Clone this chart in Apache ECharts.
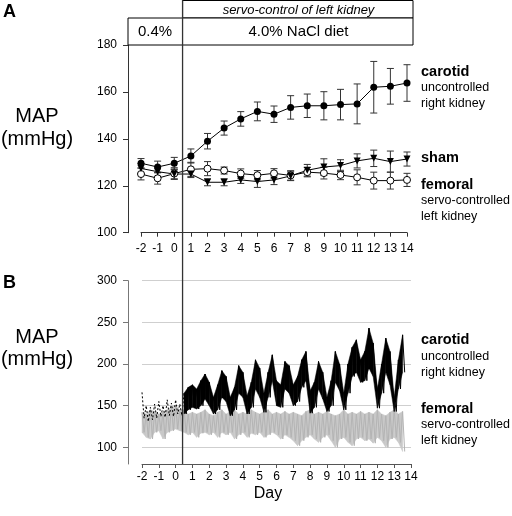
<!DOCTYPE html>
<html><head><meta charset="utf-8">
<script src="https://cdn.jsdelivr.net/npm/echarts@6/dist/echarts.min.js"></script>
<style>html,body{margin:0;padding:0;background:#fff}#c{width:512px;height:516px}</style>
</head><body><div id="c"></div>
<script>
// ---------- Panel A data ----------
const days = [-2,-1,0,1,2,3,4,5,6,7,8,9,10,11,12,13,14];
const carotidMean = [129.6,128,129.6,132.7,139,144.6,148.5,151.7,150.5,153.4,154.1,154.1,154.6,154.9,162,162.4,163.8];
const carotidErr  = [2,2.5,2.5,3,3.3,3,3.1,4,3.5,5,5,6,6.5,8.5,11,7.6,7.8];
const shamMean = [127.4,126,125,125,121.5,121.5,122.5,121.8,122.5,124.2,126.6,128,128.6,130.6,131.7,130.3,131.4];
const shamErr  = [2,2,2,1.5,1.5,1.5,1.5,2.5,2,2,2.5,3.5,2.5,3,3.5,4.5,3];
const femoralMean = [125,123.2,125.2,127,127.3,126.5,125.2,124.5,125.3,124.4,125.8,125.4,124.6,123.6,122.2,122.2,122.5];
const femoralErr  = [2.5,2.5,2.5,3,3,1.5,2,2,2,2,2,2.5,2,3.2,3.6,3.6,2.8];
const yTicksA = [100,120,140,160,180];

// ---------- Panel B data (0.25-day bins starting at day -2) ----------
const binStart = -2, binStep = 0.25;
const servoStartDay = 0.5;
const carotidHigh = [166,150,148,152,155,150,157,153,157,152,165,172,175,170,180,188,178,160,175,192,185,160,172,198,190,162,178,205,195,165,190,211,180,175,203,198,175,185,205,215,168,178,203,190,160,180,215,200,165,200,220,229,205,215,243,225,170,200,231,215,160,205,235];
const carotidLow  = [135,131,133,135,137,136,138,137,140,138,140,145,148,146,150,158,150,140,145,160,155,138,145,165,160,140,148,170,160,142,160,180,150,148,170,165,150,155,172,180,141,148,170,158,143,150,178,168,145,165,185,190,178,180,195,185,147,165,190,175,143,170,190];
const femoralHigh = [142,140,145,143,140,142,145,148,150,145,145,140,142,140,142,145,140,138,142,145,140,143,145,140,142,140,145,142,140,143,145,140,142,140,143,140,142,140,138,143,145,140,142,140,143,140,138,140,145,140,142,140,143,140,142,140,145,140,138,142,145,140,143];
const femoralLow  = [118,112,110,118,120,110,118,120,122,120,118,115,118,112,117,118,115,118,112,118,115,118,110,115,118,112,117,115,118,112,115,118,115,110,115,112,108,102,108,112,115,110,106,112,115,108,100,110,112,106,102,110,112,108,110,105,112,108,100,110,112,106,95];
const yTicksB = [100,150,200,250,300];

const FONT = "'Liberation Sans', Arial, sans-serif";

function zigzag(hi, lo, fromDay, toDay){
  const out = [];
  for (let i = 0; i < hi.length; i++){
    const t = binStart + i*binStep;
    if (t < fromDay || t > toDay) continue;
    out.push([t, hi[i]]);
    out.push([t + binStep/2, lo[i]]);
  }
  return out;
}
function bandSegs(hi, lo, fromDay){
  const out = [];
  for (let i = 0; i < hi.length - 1; i++){
    const t = binStart + i*binStep;
    if (t < fromDay) continue;
    out.push([t, hi[i], lo[i], t + binStep, hi[i+1], lo[i+1]]);
  }
  return out;
}
function bandRender(color){
  return function(params, api){
    const a = api.coord([api.value(0), api.value(1)]);
    const b = api.coord([api.value(0), api.value(2)]);
    const c = api.coord([api.value(3), api.value(5)]);
    const d = api.coord([api.value(3), api.value(4)]);
    return {type:'polygon', shape:{points:[a,b,c,d]}, style:{fill:color, stroke:color, lineWidth:0.5}};
  };
}
function errRender(params, api){
  const x = api.value(0), y = api.value(1), e = api.value(2);
  const top = api.coord([x, y+e]), bot = api.coord([x, y-e]);
  const w = 3.5;
  const style = {stroke:'#333', lineWidth:1};
  return {type:'group', children:[
    {type:'line', shape:{x1:top[0],y1:top[1],x2:bot[0],y2:bot[1]}, style:style},
    {type:'line', shape:{x1:top[0]-w,y1:top[1],x2:top[0]+w,y2:top[1]}, style:style},
    {type:'line', shape:{x1:bot[0]-w,y1:bot[1],x2:bot[0]+w,y2:bot[1]}, style:style}
  ]};
}
const pack = (m, e) => days.map((d,i)=>[d, m[i], e[i]]);
const pts = (m) => days.map((d,i)=>[d, m[i]]);

const chart = echarts.init(document.getElementById('c'), null, {renderer:'canvas'});
const axisCol = '#333';
const option = {
  animation:false,
  backgroundColor:'#fff',
  textStyle:{fontFamily:FONT},
  grid:[
    {left:141, right:105, top:45, height:187.7},
    {left:142, right:101, top:280.7, bottom:52}
  ],
  xAxis:[
    {type:'value', gridIndex:0, min:-2, max:14, interval:1,
     axisLine:{onZero:false, lineStyle:{color:axisCol}}, axisTick:{length:4, lineStyle:{color:axisCol}},
     axisLabel:{color:'#000', fontSize:12, margin:10, fontFamily:FONT}, splitLine:{show:false}},
    {type:'value', gridIndex:1, min:-2, max:14, interval:1,
     axisLine:{onZero:false, lineStyle:{color:'#555'}}, axisTick:{length:4, lineStyle:{color:'#555'}},
     axisLabel:{color:'#000', fontSize:12, margin:7, fontFamily:FONT}, splitLine:{show:false}}
  ],
  yAxis:[
    {type:'value', gridIndex:0, min:100, max:180, interval:20, offset:13,
     axisLine:{show:true, onZero:false, lineStyle:{color:axisCol}}, axisTick:{show:true, length:5, lineStyle:{color:axisCol}},
     axisLabel:{color:'#000', fontSize:12, margin:11, fontFamily:FONT}, splitLine:{show:false}},
    {type:'value', gridIndex:1, min:80, max:300, offset:14,
     axisLine:{show:true, onZero:false, lineStyle:{color:'#777'}},
     axisTick:{show:true, length:5, lineStyle:{color:'#777'}, customValues:yTicksB},
     axisLabel:{color:'#000', fontSize:12, margin:11, fontFamily:FONT, customValues:yTicksB},
     splitLine:{show:true, lineStyle:{color:'#cfcfcf', width:1}}}
  ],
  series:[
    {type:'custom', xAxisIndex:0, yAxisIndex:0, renderItem:errRender, data:pack(femoralMean,femoralErr), encode:{x:0,y:1}, z:2},
    {type:'custom', xAxisIndex:0, yAxisIndex:0, renderItem:errRender, data:pack(shamMean,shamErr), encode:{x:0,y:1}, z:2},
    {type:'custom', xAxisIndex:0, yAxisIndex:0, renderItem:errRender, data:pack(carotidMean,carotidErr), encode:{x:0,y:1}, z:2},
    {type:'line', name:'femoral', xAxisIndex:0, yAxisIndex:0, data:pts(femoralMean), symbol:'circle', symbolSize:7,
     itemStyle:{color:'#fff', borderColor:'#000', borderWidth:1}, lineStyle:{color:'#000', width:1}, z:3},
    {type:'line', name:'sham', xAxisIndex:0, yAxisIndex:0, data:pts(shamMean), symbol:'triangle', symbolRotate:180, symbolSize:7,
     itemStyle:{color:'#000'}, lineStyle:{color:'#000', width:1}, z:3},
    {type:'line', name:'carotid', xAxisIndex:0, yAxisIndex:0, data:pts(carotidMean), symbol:'circle', symbolSize:7,
     itemStyle:{color:'#000'}, lineStyle:{color:'#000', width:1}, z:4},

    // femoral trace (grey)
    {type:'custom', xAxisIndex:1, yAxisIndex:1, renderItem:bandRender('#c8c8c8'), data:bandSegs(femoralHigh, femoralLow, -99),
     encode:{x:[0,3], y:[1,2,4,5]}, z:1},
    {type:'line', xAxisIndex:1, yAxisIndex:1, data:zigzag(femoralHigh,femoralLow,-99,99), symbol:'none',
     lineStyle:{color:'#b4b4b4', width:1}, z:2},

    // carotid trace (black): sparse dashes before servo start, dense band afterwards
    {type:'line', xAxisIndex:1, yAxisIndex:1, data:zigzag(carotidHigh,carotidLow,-99,servoStartDay), symbol:'none',
     lineStyle:{color:'#000', width:1, type:[2,2]}, z:4},
    {type:'custom', xAxisIndex:1, yAxisIndex:1, renderItem:bandRender('#000'), data:bandSegs(carotidHigh, carotidLow, servoStartDay),
     encode:{x:[0,3], y:[1,2,4,5]}, z:3},
    {type:'line', xAxisIndex:1, yAxisIndex:1, data:zigzag(carotidHigh,carotidLow,servoStartDay,99), symbol:'none',
     lineStyle:{color:'#000', width:1}, z:4}
  ]
};
chart.setOption(option);

const vx = chart.convertToPixel({xAxisIndex:0}, servoStartDay);
const vbot = chart.convertToPixel({xAxisIndex:1, yAxisIndex:1}, [servoStartDay, 80])[1];
const T = (x,y,txt,size,opts) => ({type:'text', x:x, y:y, z:10, style:{text:txt, font:(opts&&opts.weight?opts.weight+' ':'')+(opts&&opts.italic?'italic ':'')+size+'px '+FONT, fill:'#000', textAlign:(opts&&opts.align)||'left', textVerticalAlign:'middle'}});
const g = [
  {type:'rect', shape:{x:vx, y:0.5, width:413-vx, height:17.5}, style:{fill:'#fff', stroke:'#000', lineWidth:1}, z:5},
  {type:'rect', shape:{x:128, y:18, width:285, height:27}, style:{fill:'#fff', stroke:'#000', lineWidth:1}, z:5},
  {type:'line', shape:{x1:vx, y1:0, x2:vx, y2:vbot}, style:{stroke:'#333', lineWidth:1.3}, z:20},
  T(298.5, 10, 'servo-control of left kidney', 13, {italic:true, align:'center'}),
  T(155, 32, '0.4%', 15, {align:'center'}),
  T(298.5, 32, '4.0% NaCl diet', 15, {align:'center'}),
  T(3, 12, 'A', 18, {weight:'bold'}),
  T(3, 283, 'B', 18, {weight:'bold'}),
  T(37, 116.5, 'MAP', 20, {align:'center'}),
  T(37, 139, '(mmHg)', 20, {align:'center'}),
  T(37, 337.5, 'MAP', 20, {align:'center'}),
  T(37, 359, '(mmHg)', 20, {align:'center'}),
  T(421, 72, 'carotid', 14.5, {weight:'bold'}),
  T(421, 88, 'uncontrolled', 12.5),
  T(421, 103.5, 'right kidney', 12.5),
  T(421, 158, 'sham', 14.5, {weight:'bold'}),
  T(421, 185, 'femoral', 14.5, {weight:'bold'}),
  T(421, 201, 'servo-controlled', 12.5),
  T(421, 217, 'left kidney', 12.5),
  T(421, 340, 'carotid', 14.5, {weight:'bold'}),
  T(421, 357, 'uncontrolled', 12.5),
  T(421, 373, 'right kidney', 12.5),
  T(421, 409, 'femoral', 14.5, {weight:'bold'}),
  T(421, 425, 'servo-controlled', 12.5),
  T(421, 441, 'left kidney', 12.5),
  T(268, 494, 'Day', 16, {align:'center'})
];
chart.setOption({graphic:{elements:g}});
</script>
</body></html>
